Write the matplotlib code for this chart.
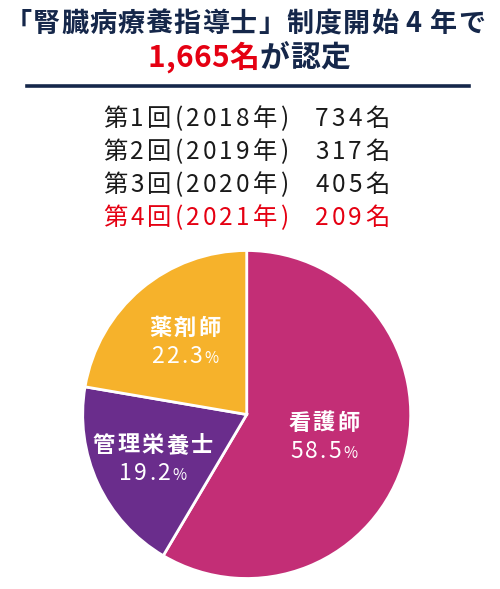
import numpy as np
import matplotlib
matplotlib.use("Agg")
import matplotlib.pyplot as plt

plt.rcParams['font.family'] = ['Noto Sans CJK JP', 'DejaVu Sans']

# data
title_line1 = "「腎臓病療養指導士」制度開始 4 年で"
total_text = "1,665名"
title_tail = "が認定"
rounds = ["第1回(2018年)", "第2回(2019年)", "第3回(2020年)", "第4回(2021年)"]
counts = [734, 317, 405, 209]
jobs = ["看護師", "管理栄養士", "薬剤師"]
shares = [58.5, 19.2, 22.3]

navy = "#15274a"
red = "#e50012"
black = "#1a1a1a"
colors = ["#c32e76", "#6a2d8c", "#f6b22b"]
label_dist = [0.487, 0.63, 0.584]

W, H = 500, 589
fig = plt.figure(figsize=(W / 100, H / 100), dpi=100)
fig.patch.set_facecolor("white")
renderer = fig.canvas.get_renderer()


def spaced(x, y, parts, ha="center", width=None, gap=3.0, weight="normal", space=7):
    # draws text char by char (x, y in px from top-left, y = baseline)
    chars = []
    for s, col, size in parts:
        for ch in s:
            chars.append((ch, col, size))
    items = []
    for ch, col, size in chars:
        if ch == " ":
            items.append((None, space))
            continue
        t = fig.text(0, 0, ch, fontsize=size, color=col, fontweight=weight,
                     ha="left", va="baseline")
        w = t.get_window_extent(renderer).width
        items.append((t, w))
    total_ink = sum(w for _, w in items)
    if width is not None:
        gap = (width - total_ink) / (len(items) - 1)
    total = total_ink + gap * (len(items) - 1)
    if ha == "center":
        x0 = x - total / 2
    elif ha == "right":
        x0 = x - total
    else:
        x0 = x
    for t, w in items:
        if t is not None:
            t.set_position((x0 / W, 1 - y / H))
        x0 += w + gap


# title
spaced(5, 32, [(title_line1, navy, 19.5)], ha="left", width=480, weight="bold", space=6)
spaced(147, 67, [(total_text, red, 21.5), (title_tail, navy, 21.5)],
       ha="left", width=203, weight="bold")
fig.add_artist(plt.Line2D([27 / W, 469 / W], [1 - 86 / H, 1 - 86 / H],
                          color=navy, lw=2.6, transform=fig.transFigure))

# list of rounds
for i, (r, c) in enumerate(zip(rounds, counts)):
    col = red if i == len(rounds) - 1 else black
    y = 126 + i * 33
    spaced(103, y, [(r, col, 17.5)], ha="left", width=185)
    spaced(389, y, [(str(c), col, 17.5), ("名", col, 17.5)], ha="right", width=74)

# pie
cx, cy, R = 246.7, 414.5, 164
ax = fig.add_axes([(cx - R) / W, 1 - (cy + R) / H, 2 * R / W, 2 * R / H])
wedges, _ = ax.pie(shares, colors=colors, startangle=90, counterclock=False,
                   radius=1, wedgeprops=dict(edgecolor="white", linewidth=2))
ax.set_xlim(-1, 1)
ax.set_ylim(-1, 1)
ax.set_aspect("equal")
ax.axis("off")

for w, name, s, d in zip(wedges, jobs, shares, label_dist):
    ang = np.deg2rad((w.theta1 + w.theta2) / 2)
    px, py = ax.transData.transform((d * np.cos(ang), d * np.sin(ang)))
    py = H - py
    spaced(px, py - 6, [(name, "white", 16)], gap=2.2, weight="bold")
    spaced(px, py + 22, [(f"{s:.1f}", "white", 16.5), ("%", "white", 11)], gap=2.2)

fig.savefig("out.png", dpi=100, facecolor="white")
